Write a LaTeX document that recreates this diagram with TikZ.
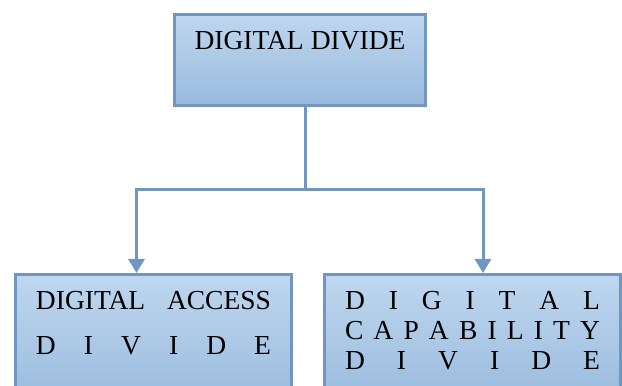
\documentclass[tikz,border=0pt]{standalone}
\usepackage{fontspec}
\setmainfont{Liberation Serif}
\usepackage{tikz}
\usetikzlibrary{arrows.meta,positioning}
\definecolor{dLine}{RGB}{113,150,193}
\definecolor{dTop}{RGB}{191,215,239}
\definecolor{dBot}{RGB}{153,186,221}
% spread one line of capitals over a fixed width
\newcommand{\spread}[2]{\makebox[#1][s]{#2}}

\begin{document}
\begin{tikzpicture}[
	x=1pt, y=1pt,
	>={Triangle[width=16pt,length=14pt]},
	dbox/.style={
		draw=dLine, line width=3pt, top color=dTop, bottom color=dBot,
		inner sep=0pt, text height=35.5pt, align=center,
		font=\fontsize{27.5}{30}\selectfont
	},
	link/.style={draw=dLine, line width=3pt}
	]
	\useasboundingbox (0,0) rectangle (622,386);

	\node[dbox, text width=251pt, text depth=55.5pt] (top) at (300,326)
		{\spread{211pt}{DIGITAL\hfill DIVIDE}};
	\node[dbox, text width=276pt, text depth=95.5pt] (access) at (153.5,46)
		{\spread{235pt}{DIGITAL\hfill ACCESS}\\[15pt]
		 \spread{235pt}{D\hfill I\hfill V\hfill I\hfill D\hfill E}};
	\node[dbox, text width=296pt, text depth=95.5pt] (capab) at (472.5,46)
		{\spread{255pt}{D\hfill I\hfill G\hfill I\hfill T\hfill A\hfill L}\\
		 \spread{255pt}{C\hfill A\hfill P\hfill A\hfill B\hfill I\hfill L\hfill I\hfill T\hfill Y}\\
		 \spread{255pt}{D\hfill I\hfill V\hfill I\hfill D\hfill E}};

	\coordinate (split) at (305,196);
	\draw[link] ([xshift=5pt]top.south) -- (split);
	\draw[link,->] (split) -| ([xshift=-17pt]access.north);
	\draw[link,->] (split) -| ([xshift=10.5pt]capab.north);
\end{tikzpicture}
\end{document}
